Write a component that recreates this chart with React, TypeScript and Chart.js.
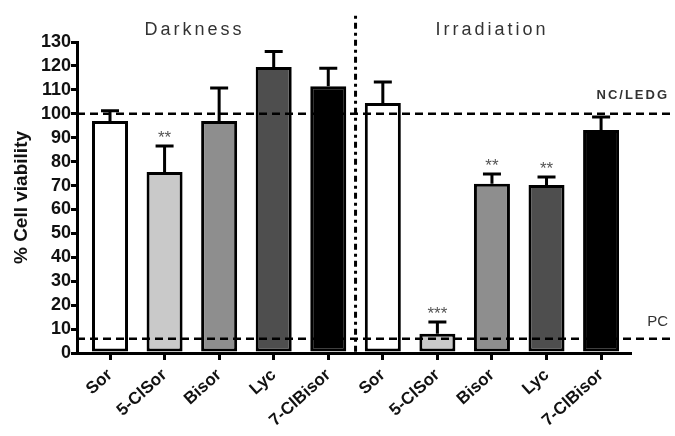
import React, { useEffect, useRef } from 'react';
import { Chart, registerables } from 'chart.js';

Chart.register(...registerables);

const categories = ['Sor', '5-ClSor', 'Bisor', 'Lyc', '7-ClBisor', 'Sor', '5-ClSor', 'Bisor', 'Lyc', '7-ClBisor'];
const viability = [97, 75.7, 97, 119.6, 111.5, 104.5, 8, 70.7, 70.2, 93.2];
const errorsUp = [4.3, 10.8, 13.8, 6.4, 7.5, 8.8, 5, 4.1, 3.4, 5.5];
const significance = ['', '**', '', '', '', '', '***', '**', '**', ''];
const barColors = ['#ffffff', '#c9c9c9', '#8e8e8e', '#4e4e4e', '#000000', '#ffffff', '#c9c9c9', '#8e8e8e', '#4e4e4e', '#000000'];
const groupTitles = ['Darkness', 'Irradiation'];
const groupTitleX = [1.55, 7];
const groupSeparatorX = 4.5;
const ncLevel = 100;
const pcLevel = 6;
const yMin = 0;
const yMax = 130;
const yStep = 10;

const FONT = "Arial, 'Liberation Sans', Helvetica, sans-serif";

const annotations = {
  id: 'annotations',
  afterDatasetsDraw(chart: any) {
    const ctx = chart.ctx;
    const xs = chart.scales.x;
    const ys = chart.scales.y;
    const area = chart.chartArea;
    const meta = chart.getDatasetMeta(0);
    ctx.save();

    // reference dashed lines
    ctx.strokeStyle = '#000';
    ctx.lineWidth = 2.5;
    ctx.setLineDash([8, 5]);
    [ncLevel, pcLevel].forEach((lvl) => {
      const y = ys.getPixelForValue(lvl);
      ctx.beginPath();
      ctx.moveTo(area.left, y);
      ctx.lineTo(chart.width, y);
      ctx.stroke();
    });

    // group separator (dash-dot)
    ctx.lineWidth = 3;
    ctx.setLineDash([3, 4, 6, 4]);
    const sx = xs.getPixelForValue(groupSeparatorX);
    ctx.beginPath();
    ctx.moveTo(sx, ys.getPixelForValue(yMax + 11));
    ctx.lineTo(sx, area.bottom);
    ctx.stroke();
    ctx.setLineDash([]);

    // error bars
    ctx.lineWidth = 3;
    ctx.strokeStyle = '#000';
    meta.data.forEach((bar: any, i: number) => {
      const top = ys.getPixelForValue(viability[i] + errorsUp[i]);
      ctx.beginPath();
      ctx.moveTo(bar.x, bar.y);
      ctx.lineTo(bar.x, top);
      ctx.moveTo(bar.x - 9, top);
      ctx.lineTo(bar.x + 9, top);
      ctx.stroke();
      if (significance[i]) {
        ctx.fillStyle = '#555';
        ctx.font = `17px ${FONT}`;
        ctx.textAlign = 'center';
        ctx.textBaseline = 'alphabetic';
        ctx.fillText(significance[i], bar.x, top - 3);
      }
    });

    // group titles
    ctx.fillStyle = '#333';
    ctx.font = `18px ${FONT}`;
    (ctx as any).letterSpacing = '3px';
    ctx.textAlign = 'center';
    ctx.textBaseline = 'middle';
    groupTitles.forEach((t, g) => {
      ctx.fillText(t, xs.getPixelForValue(groupTitleX[g]), ys.getPixelForValue(yMax + 5));
    });

    // NC / PC labels
    ctx.font = `bold 13px ${FONT}`;
    (ctx as any).letterSpacing = '2px';
    ctx.textAlign = 'right';
    ctx.fillText('NC/LEDG', chart.width - 6, ys.getPixelForValue(ncLevel + 7.5));
    (ctx as any).letterSpacing = '0px';
    ctx.font = `15px ${FONT}`;
    ctx.fillText('PC', chart.width - 7, ys.getPixelForValue(pcLevel + 7));
    ctx.restore();
  },
};

export default function App() {
  const ref = useRef<HTMLCanvasElement | null>(null);
  useEffect(() => {
    if (!ref.current) return;
    const chart = new Chart(ref.current, {
      type: 'bar',
      data: {
        datasets: [
          {
            data: categories.map((_, i) => ({ x: i, y: viability[i] })),
            backgroundColor: barColors,
            borderColor: '#000',
            borderWidth: 3,
            borderSkipped: false,
            barPercentage: 0.66,
            categoryPercentage: 1,
          },
        ],
      },
      options: {
        responsive: false,
        animation: false,
        layout: { padding: { top: 42, right: 45, left: 0, bottom: 0 } },
        plugins: { legend: { display: false }, tooltip: { enabled: false } },
        scales: {
          x: {
            type: 'linear',
            offset: false,
            min: -0.605,
            max: 9.53,
            afterBuildTicks: (s: any) => {
              s.ticks = categories.map((_, i) => ({ value: i }));
            },
            afterFit: (s: any) => {
              s.height = 83;
            },
            ticks: {
              callback: (v: any) => categories[Math.round(v)] ?? '',
              autoSkip: false,
              minRotation: 42,
              maxRotation: 42,
              color: '#111',
              font: { family: FONT, size: 17, weight: 'bold' },
              padding: 5,
            },
            grid: { offset: false, drawOnChartArea: false, drawTicks: true, tickLength: 7, lineWidth: 3, color: '#000' },
            border: { display: true, width: 3, color: '#000' },
          },
          y: {
            min: yMin,
            max: yMax,
            afterFit: (s: any) => {
              s.width = 77;
            },
            ticks: {
              stepSize: yStep,
              maxTicksLimit: 20,
              autoSkip: false,
              color: '#111',
              font: { family: FONT, size: 18, weight: 'bold' },
              padding: 0,
            },
            grid: { drawOnChartArea: false, drawTicks: true, tickLength: 6, lineWidth: 3, color: '#000' },
            border: { display: true, width: 3, color: '#000' },
            title: {
              display: true,
              text: '% Cell viability',
              color: '#111',
              font: { family: FONT, size: 19, weight: 'bold' },
              padding: { top: 10, bottom: 0 },
            },
          },
        },
      },
      plugins: [annotations],
    });
    return () => chart.destroy();
  }, []);
  return (
    <div style={{ position: 'absolute', left: 0, top: 0, width: 675, height: 436, background: '#fff' }}>
      <canvas ref={ref} width={675} height={436} />
    </div>
  );
}
